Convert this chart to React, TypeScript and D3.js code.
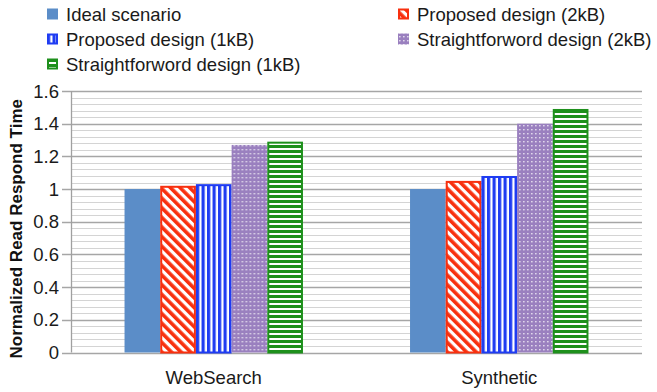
import * as d3 from "d3";
import React, { useEffect, useRef } from "react";

const categories = ["WebSearch", "Synthetic"];
const seriesNames = [
  "Ideal scenario",
  "Proposed design (2kB)",
  "Proposed design (1kB)",
  "Straightforword design (2kB)",
  "Straightforword design (1kB)",
];
const webSearchValues = [1.0, 1.02, 1.03, 1.27, 1.29];
const syntheticValues = [1.0, 1.05, 1.08, 1.4, 1.49];
const yTicks = [0, 0.2, 0.4, 0.6, 0.8, 1, 1.2, 1.4, 1.6];

const W = 657;
const H = 392;

export default function App() {
  const node = useRef<SVGSVGElement | null>(null);

  useEffect(() => {
    const svg = d3.select(node.current);
    svg.selectAll("*").remove();

    const margin = { top: 91, right: 15, bottom: 39.5, left: 71 };
    const font = "'Liberation Sans', Arial, sans-serif";

    const values: Record<string, number[]> = {
      WebSearch: webSearchValues,
      Synthetic: syntheticValues,
    };

    // patterns for each series
    const defs = svg.append("defs");
    const pat = (id: string, w: number, h: number, tr?: string) => {
      const p = defs.append("pattern").attr("id", id)
        .attr("patternUnits", "userSpaceOnUse")
        .attr("width", w).attr("height", h);
      if (tr) p.attr("patternTransform", tr);
      return p;
    };
    let p = pat("p-red", 6.8, 6.8, "rotate(-45)");
    p.append("rect").attr("width", 6.8).attr("height", 6.8).attr("fill", "#fff");
    p.append("rect").attr("width", 3.6).attr("height", 6.8).attr("fill", "#f8300f");

    p = pat("p-blue", 5.5, 5);
    p.append("rect").attr("width", 5.5).attr("height", 5).attr("fill", "#fff");
    p.append("rect").attr("width", 3.2).attr("height", 5).attr("fill", "#1f3cf2");

    p = pat("p-purple", 4, 4);
    p.append("rect").attr("width", 4).attr("height", 4).attr("fill", "#9a80bf");
    p.append("rect").attr("x", 1).attr("y", 1).attr("width", 1.6).attr("height", 1.4)
      .attr("fill", "#fff").attr("opacity", 0.7);

    p = pat("p-green", 5, 5);
    p.append("rect").attr("width", 5).attr("height", 5).attr("fill", "#fff");
    p.append("rect").attr("width", 5).attr("height", 3).attr("fill", "#1e901c");

    const fills = ["#5b8dc8", "url(#p-red)", "url(#p-blue)", "url(#p-purple)", "url(#p-green)"];
    const strokes = ["none", "#f8300f", "#1f3cf2", "none", "#1e901c"];

    const x0 = d3.scaleBand()
      .domain(categories)
      .range([margin.left, W - margin.right])
      .paddingInner(0.375)
      .paddingOuter(0.1875);

    const x1 = d3.scaleBand()
      .domain(seriesNames)
      .range([0, x0.bandwidth()]);

    const y = d3.scaleLinear()
      .domain([0, 1.6])
      .range([H - margin.bottom, margin.top]);

    // minor grid
    const minor = d3.range(0, 41).map(i => i * 0.04);
    svg.append("g")
      .selectAll("line")
      .data(minor)
      .join("line")
      .attr("x1", margin.left).attr("x2", W - margin.right)
      .attr("y1", d => Math.round(y(d)) + 0.5).attr("y2", d => Math.round(y(d)) + 0.5)
      .attr("stroke", "#d4d4d4").attr("stroke-width", 1);

    // major grid
    svg.append("g")
      .selectAll("line")
      .data(yTicks)
      .join("line")
      .attr("x1", margin.left - 9).attr("x2", W - margin.right)
      .attr("y1", d => Math.round(y(d)) + 0.5).attr("y2", d => Math.round(y(d)) + 0.5)
      .attr("stroke", "#a6a6a6").attr("stroke-width", 1.3);

    // y axis line
    svg.append("line")
      .attr("x1", margin.left + 0.5).attr("x2", margin.left + 0.5)
      .attr("y1", y(1.6)).attr("y2", y(0))
      .attr("stroke", "#a0a0a0").attr("stroke-width", 1.3);

    // bars
    const groups = svg.append("g")
      .selectAll("g")
      .data(categories)
      .join("g")
      .attr("transform", d => `translate(${x0(d)},0)`);

    groups.selectAll("rect")
      .data(c => values[c].map((v, i) => ({ v, i })))
      .join("rect")
      .attr("x", d => x1(seriesNames[d.i])! + (strokes[d.i] === "none" ? 0 : 1))
      .attr("width", d => x1.bandwidth() - (strokes[d.i] === "none" ? 0 : 2))
      .attr("y", d => y(d.v) + (strokes[d.i] === "none" ? 0 : 1))
      .attr("height", d => y(0) - y(d.v) - (strokes[d.i] === "none" ? 0 : 1))
      .attr("fill", d => fills[d.i])
      .attr("stroke", d => strokes[d.i])
      .attr("stroke-width", 2);

    // y tick labels
    svg.append("g")
      .selectAll("text")
      .data(yTicks)
      .join("text")
      .attr("x", margin.left - 12)
      .attr("y", d => y(d))
      .attr("dy", "0.36em")
      .attr("text-anchor", "end")
      .attr("font-family", font)
      .attr("font-size", 18.5)
      .attr("fill", "#1a1a1a")
      .text(d => d3.format("~g")(d));

    // x labels
    svg.append("g")
      .selectAll("text")
      .data(categories)
      .join("text")
      .attr("x", d => x0(d)! + x0.bandwidth() / 2)
      .attr("y", H - margin.bottom + 31)
      .attr("text-anchor", "middle")
      .attr("font-family", font)
      .attr("font-size", 18.5)
      .attr("fill", "#1a1a1a")
      .text(d => d);

    // y title
    svg.append("text")
      .attr("transform", `translate(22,${(margin.top + H - margin.bottom) / 2 + 7}) rotate(-90)`)
      .attr("text-anchor", "middle")
      .attr("font-family", font)
      .attr("font-size", 17)
      .attr("font-weight", "bold")
      .attr("fill", "#111")
      .text("Normalized Read Respond Time");

    // legend, two columns
    const colX = [47, 398];
    const rowY = [14, 39, 64];
    const leg = svg.append("g")
      .selectAll("g")
      .data(seriesNames)
      .join("g")
      .attr("transform", (d, i) => `translate(${colX[i % 2]},${rowY[Math.floor(i / 2)]})`);
    leg.append("rect")
      .attr("x", (d, i) => (strokes[i] === "none" ? 0 : 1))
      .attr("y", (d, i) => -5.5 + (strokes[i] === "none" ? 0 : 1))
      .attr("width", (d, i) => 11 - (strokes[i] === "none" ? 0 : 2))
      .attr("height", (d, i) => 11 - (strokes[i] === "none" ? 0 : 2))
      .attr("fill", (d, i) => fills[i])
      .attr("stroke", (d, i) => strokes[i])
      .attr("stroke-width", 2);
    leg.append("text")
      .attr("x", 19)
      .attr("dy", "0.36em")
      .attr("font-family", font)
      .attr("font-size", 18.5)
      .attr("fill", "#1a1a1a")
      .text(d => d);
  }, []);

  return (
    <svg ref={node} width={W} height={H}
      style={{ position: "absolute", left: 0, top: 0, background: "#fff" }} />
  );
}
